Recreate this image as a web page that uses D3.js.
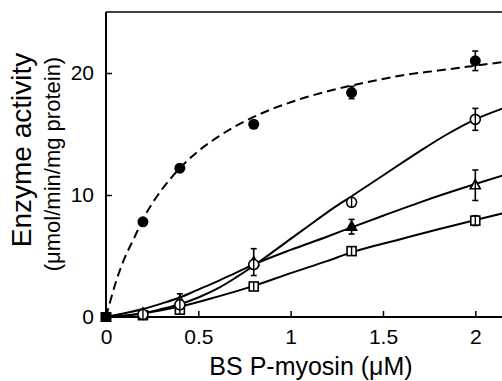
<!DOCTYPE html>
<html><head><meta charset="utf-8">
<script src="https://cdn.jsdelivr.net/npm/d3@7"></script>
<style>body{margin:0;background:#fff}svg{display:block}text{font-family:"Liberation Sans",Arial,Helvetica,sans-serif;fill:#000}</style>
</head><body>
<script>
// Data
const xPoints = [0.2, 0.4, 0.8, 1.33, 2.0];
const filledCircleY   = [7.8, 12.2, 15.8, 18.4, 21.0];
const filledCircleErr = [0, 0, 0, 0.5, 0.8];
const openCircleY     = [0.2, 1.0, 4.3, 9.4, 16.2];
const openCircleErr   = [0, 0, 0, 0, 0.9];
const triangleY       = [0.3, 1.3, 4.5, 7.4, 10.8];
const triangleErr     = [0, 0.6, 1.1, 0.6, 1.25];
const squareY         = [0.15, 0.6, 2.5, 5.4, 7.9];
const squareErr       = [0, 0, 0.3, 0, 0.4];
const originPoint = [0, 0];

// fitted curves
const fitFilled = [[0,0],[0.025,1.4],[0.05,2.7],[0.1,4.8],[0.15,6.4],[0.2,8.0],[0.3,10.4],[0.4,12.2],[0.5,13.6],[0.6,14.7],[0.8,16.4],[1.0,17.6],[1.2,18.5],[1.4,19.2],[1.6,19.8],[1.8,20.2],[2.0,20.6],[2.15,20.9]];
const fitOpen = [[0,0],[0.1,0.08],[0.2,0.3],[0.3,0.65],[0.4,1.05],[0.5,1.6],[0.6,2.3],[0.7,3.2],[0.8,4.2],[0.9,5.3],[1.0,6.4],[1.1,7.5],[1.2,8.6],[1.33,9.9],[1.5,11.6],[1.7,13.6],[1.85,15.0],[2.0,16.2],[2.15,17.1]];
const fitTriangle = [[0,0],[0.1,0.3],[0.2,0.65],[0.3,1.1],[0.4,1.6],[0.5,2.25],[0.6,2.9],[0.7,3.6],[0.8,4.3],[1.0,5.5],[1.2,6.6],[1.33,7.35],[1.5,8.3],[1.7,9.4],[2.0,10.9],[2.15,11.6]];
const fitSquare = [[0,0],[0.1,0.12],[0.2,0.3],[0.3,0.55],[0.4,0.85],[0.6,1.65],[0.8,2.55],[1.0,3.6],[1.2,4.6],[1.33,5.3],[1.6,6.4],[1.8,7.2],[2.0,7.95],[2.15,8.5]];

const xTicks = [0, 0.5, 1, 1.5, 2];
const xTickLabels = ["0", "0.5", "1", "1.5", "2"];
const yTicks = [0, 10, 20];
const yTickLabels = ["0", "10", "20"];

const W = 502, H = 381;
const svg = d3.select("body").append("svg").attr("width", W).attr("height", H);

const x = d3.scaleLinear().domain([0, 2.15]).range([106, 503]);
const y = d3.scaleLinear().domain([0, 25]).range([317, 12]);

// frame
svg.append("line").attr("x1", x(0)).attr("x2", W).attr("y1", y(25)).attr("y2", y(25)).attr("stroke", "#000").attr("stroke-width", 1.6);

// x axis
const gx = svg.append("g").attr("transform", `translate(0,${y(0)})`)
  .call(d3.axisBottom(x).tickValues(xTicks).tickSizeInner(-6).tickSizeOuter(0).tickPadding(12)
    .tickFormat((d, i) => xTickLabels[i]));
gx.select(".domain").attr("stroke-width", 2).attr("d", `M${x(0)},0H${W}`);
gx.selectAll(".tick line").attr("stroke-width", 1.5).filter(d => d === 0).remove();
gx.selectAll("text").attr("font-size", 21).attr("font-family", '"Liberation Sans",Arial,sans-serif');

// y axis
const gy = svg.append("g").attr("transform", `translate(${x(0)},0)`)
  .call(d3.axisLeft(y).tickValues(yTicks).tickSizeInner(-6).tickSizeOuter(0).tickPadding(12)
    .tickFormat((d, i) => yTickLabels[i]));
gy.select(".domain").attr("stroke-width", 2).attr("d", `M0,${y(0)}V${y(25)}`);
gy.selectAll(".tick line").attr("stroke-width", 1.5).filter(d => d === 0).remove();
gy.selectAll("text").attr("font-size", 21).attr("font-family", '"Liberation Sans",Arial,sans-serif');

// fitted lines
const line = d3.line().x(d => x(d[0])).y(d => y(d[1])).curve(d3.curveMonotoneX);
const plot = svg.append("g");
plot.append("path").datum(fitFilled).attr("d", line).attr("fill", "none").attr("stroke", "#000").attr("stroke-width", 2).attr("stroke-dasharray", "9,5");
[fitOpen, fitTriangle, fitSquare].forEach(f => {
  plot.append("path").datum(f).attr("d", line).attr("fill", "none").attr("stroke", "#000").attr("stroke-width", 2);
});

function errorBars(ys, errs) {
  xPoints.forEach((xv, i) => {
    if (!errs[i]) return;
    const cx = x(xv), y1 = y(ys[i] - errs[i]), y2 = y(ys[i] + errs[i]);
    plot.append("line").attr("x1", cx).attr("x2", cx).attr("y1", y1).attr("y2", y2).attr("stroke", "#000").attr("stroke-width", 1.6);
    [y1, y2].forEach(yy => plot.append("line").attr("x1", cx - 3).attr("x2", cx + 3).attr("y1", yy).attr("y2", yy).attr("stroke", "#000").attr("stroke-width", 1.6));
  });
}

// squares
errorBars(squareY, squareErr);
xPoints.forEach((xv, i) => {
  plot.append("rect").attr("x", x(xv) - 4.5).attr("y", y(squareY[i]) - 4.5).attr("width", 9).attr("height", 9)
    .attr("fill", "#fff").attr("stroke", "#000").attr("stroke-width", 1.6);
  plot.append("line").attr("x1", x(xv)).attr("x2", x(xv)).attr("y1", y(squareY[i]) - 4.5).attr("y2", y(squareY[i]) + 4.5).attr("stroke", "#000").attr("stroke-width", 1.4);
});
// triangles
errorBars(triangleY, triangleErr);
xPoints.forEach((xv, i) => {
  const cx = x(xv), cy = y(triangleY[i]);
  plot.append("path").attr("d", `M${cx},${cy - 5.5}L${cx + 5},${cy + 3.5}L${cx - 5},${cy + 3.5}Z`)
    .attr("fill", i === 3 ? "#000" : "#fff").attr("stroke", "#000").attr("stroke-width", 1.6);
  plot.append("line").attr("x1", cx).attr("x2", cx).attr("y1", cy - 5).attr("y2", cy + 3.5).attr("stroke", "#000").attr("stroke-width", 1.4);
});
// open circles
errorBars(openCircleY, openCircleErr);
xPoints.forEach((xv, i) => {
  const cx = x(xv), cy = y(openCircleY[i]);
  plot.append("circle").attr("cx", cx).attr("cy", cy).attr("r", 5).attr("fill", "#fff").attr("stroke", "#000").attr("stroke-width", 1.6);
  plot.append("line").attr("x1", cx).attr("x2", cx).attr("y1", cy - 5).attr("y2", cy + 5).attr("stroke", "#000").attr("stroke-width", 1.4);
});
// filled circles
errorBars(filledCircleY, filledCircleErr);
xPoints.forEach((xv, i) => {
  plot.append("circle").attr("cx", x(xv)).attr("cy", y(filledCircleY[i])).attr("r", 5.5).attr("fill", "#000");
});
// origin filled square
plot.append("rect").attr("x", x(originPoint[0]) - 5.5).attr("y", y(originPoint[1]) - 5).attr("width", 11).attr("height", 10).attr("fill", "#000");

// axis titles
svg.append("text").attr("x", 311).attr("y", 375).attr("text-anchor", "middle").attr("font-size", 25).text("BS P-myosin (\u03bcM)");
svg.append("text").attr("transform", "translate(31,150) rotate(-90)").attr("text-anchor", "middle").attr("font-size", 28).text("Enzyme activity");
svg.append("text").attr("transform", "translate(60,164) rotate(-90)").attr("text-anchor", "middle").attr("font-size", 22).text("(\u03bcmol/min/mg protein)");
</script>
</body></html>
